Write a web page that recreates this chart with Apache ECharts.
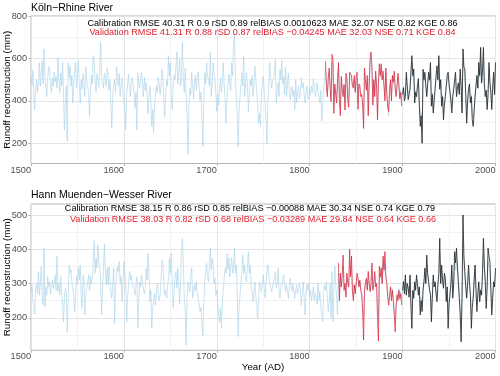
<!DOCTYPE html>
<html><head><meta charset="utf-8">
<script src="https://cdn.jsdelivr.net/npm/echarts@6/dist/echarts.min.js"></script>
<style>html,body{margin:0;padding:0;background:#fff}#c{width:500px;height:376px}</style>
</head><body><div id="c"></div>
<script>
// ---------- DATA ----------
const startYear = 1500;
const xTicks = [1500, 1600, 1700, 1800, 1900, 2000];
const topTitle = 'Köln−Rhine River';
const botTitle = 'Hann Muenden−Wesser River';
const topCal = 'Calibration RMSE 40.31 R 0.9 rSD 0.89 relBIAS 0.0010623 MAE 32.07 NSE 0.82 KGE 0.86';
const topVal = 'Validation RMSE 41.31 R 0.88 rSD 0.87 relBIAS −0.04245 MAE 32.03 NSE 0.71 KGE 0.84';
const botCal = 'Calibration RMSE 38.15 R 0.86 rSD 0.85 relBIAS −0.00088 MAE 30.34 NSE 0.74 KGE 0.79';
const botVal = 'Validation RMSE 38.03 R 0.82 rSD 0.68 relBIAS −0.03289 MAE 29.84 NSE 0.64 KGE 0.66';
const yTitle = 'Runoff reconstruction (mm)';
const xTitle = 'Year (AD)';
const topYTicks = [200, 400, 600, 800];
const topYMinor = [300, 500, 700];
const botYTicks = [200, 300, 400, 500];
const botYMinor = [150, 250, 350, 450];

// Köln-Rhine: reconstruction 1500-2000
const topRecon = [
510,470,545,430,360,455,500,440,485,580,
470,520,590,480,645,520,470,420,505,560,
550,480,440,510,470,535,490,515,460,605,
500,440,530,470,580,430,263,390,470,208,
580,510,565,470,520,390,480,540,580,460,
530,590,470,390,500,455,530,480,420,560,
500,470,430,326,450,520,480,613,580,490,
440,530,500,465,560,676,520,480,460,530,
500,470,555,520,450,500,390,270,420,480,
500,440,560,510,470,530,420,480,510,440,
400,360,263,430,480,525,460,420,490,510,
470,430,365,440,263,533,490,460,505,533,
470,420,510,450,485,430,340,420,470,390,
280,360,250,375,420,470,440,510,480,430,
470,550,500,410,326,440,500,470,613,520,
580,430,360,460,520,500,560,630,480,530,
597,470,520,676,500,440,555,420,330,150,
380,460,430,533,470,410,480,520,450,500,
535,470,400,440,320,184,390,533,480,580,
520,500,470,630,420,480,580,520,500,440,
350,430,380,460,510,440,490,580,470,400,
295,420,470,525,480,450,580,520,660,716,
520,420,330,184,350,420,480,533,470,610,
420,480,533,460,350,430,500,470,520,420,
470,565,500,450,380,295,340,280,420,480,
515,450,390,310,200,400,470,580,510,460,
490,500,540,595,390,450,485,420,550,500,
590,480,515,430,560,420,470,530,460,405,
440,470,420,450,360,500,390,440,470,410,
440,510,460,485,430,390,440,470,420,405,
455,430,470,440,505,470,420,450,485,440,
420,390,450,305,380,455,500,560,480,440,
500,530,470,420,580,570,380,470,450,410,
490,550,420,370,500,460,440,480,390,510,
500,420,400,510,520,500,470,470,500,450,
500,510,390,470,470,440,440,400,300,530,
490,460,500,360,470,570,600,540,400,490,
440,520,470,340,480,550,510,550,500,520,
470,420,530,440,390,330,450,490,420,500,
480,520,460,430,470,510,470,420,450,400,
440,470,420,440,510,470,430,440,470,520,
580,510,530,410,450,430,470,490,400,320,
350,260,520,490,510,470,430,480,510,490,
550,400,440,370,420,460,500,540,490,580,
460,490,400,430,340,400,430,470,500,520,
470,450,420,370,430,460,490,510,430,460,
480,440,520,470,370,600,540,530,430,330,
410,460,470,400,430,340,320,370,430,470,
500,460,550,510,610,480,520,600,470,430,
450,380,440,550,480,440,380,460,510,440,
540];
// Köln-Rhine: validation observations from 1817
const topValStart = 1817;
const topValObs = [
587,470,420,510,555,460,397,619,600,341,
480,430,390,500,580,400,330,515,450,420,
476,357,530,510,400,370,535,540,520,470,
460,520,440,510,535,360,480,470,420,430,
380,270,555,500,450,520,330,480,600,630,
560,380,500,420,540,470,310,490,575,520,
575,500,540,470,400,555,430,370,350,455,
500,400,520,490,540,455,420,470,530,480,
410,440,375];
// Köln-Rhine: calibration observations from 1900
const topCalStart = 1900;
const topCalObs = [
430,462,400,420,535,470,406,430,455,540,
613,520,550,390,440,420,470,505,380,280,
330,200,549,500,535,470,420,480,535,500,
581,375,430,343,400,455,520,565,500,613,
455,500,375,420,311,380,420,470,520,535,
480,440,400,343,420,455,500,535,420,460,
485,430,550,470,343,645,560,550,420,295,
400,455,480,390,420,311,280,350,420,470,
520,460,581,520,652,485,540,652,480,420,
450,359,430,581,485,440,359,470,535,430,
581];

// Hann Muenden-Wesser: reconstruction 1500-2000
const botRecon = [
270,300,250,240,210,286,300,271,335,266,
300,349,266,237,403,232,290,266,320,290,
305,270,286,310,286,300,325,280,379,276,
300,266,320,280,237,188,260,286,271,159,
250,354,330,340,305,285,266,218,257,320,
300,345,310,354,266,227,325,305,208,266,
290,301,325,280,320,300,315,360,425,330,
374,345,413,360,354,305,208,280,345,415,
340,296,345,296,349,310,271,257,300,345,
184,296,320,349,335,364,300,320,247,300,
364,335,290,188,260,296,335,310,325,300,
305,280,266,300,320,169,250,305,290,325,
300,301,270,286,345,310,388,330,247,280,
169,230,252,270,237,276,300,266,250,266,
310,369,354,300,266,280,257,290,315,374,
330,388,300,227,280,320,335,286,345,300,
240,300,398,432,354,257,220,120,260,305,
290,276,320,345,257,270,296,280,305,270,
257,240,218,230,179,149,240,305,330,359,
320,305,350,403,340,374,354,300,315,266,
280,240,208,188,230,169,250,276,320,345,
330,388,340,374,320,354,374,330,345,403,
330,354,270,145,230,266,300,335,383,330,
354,320,305,350,393,330,354,290,276,247,
280,305,260,237,198,250,305,290,276,300,
325,290,257,300,335,354,320,305,290,276,
290,305,320,335,286,300,345,280,257,290,
296,310,325,300,276,296,280,257,290,315,
290,276,300,305,257,280,296,270,266,300,
280,237,270,305,260,208,270,296,280,300,
260,280,250,270,290,250,270,260,240,300,
250,276,230,208,190,270,296,280,305,260,
218,250,300,200,335,189,280,350,300,305,
208,330,270,320,290,315,350,290,300,270,
320,300,290,370,320,350,285,265,295,280,
300,320,310,295,305,285,275,240,190,280,
300,310,285,325,300,280,300,340,285,300,
325,290,300,230,200,330,315,335,300,360,
330,360,315,300,270,250,270,290,260,285,
260,230,200,245,270,260,285,265,275,250,
285,300,280,315,275,300,290,270,315,250,
210,280,265,300,285,315,300,275,290,230,
260,240,285,300,330,300,355,320,300,285,
275,220,270,315,290,300,275,260,295,320,
390,300,335,305,290,320,310,260,290,210,
250,275,300,335,270,300,360,340,370,335,
300,270,235,190,270,420,350,320,290,265,
300,335,300,275,210,250,265,305,340,285,
240,275,300,260,285,275,320,390,335,300,
250,290,365,350,340,285,230,265,300,290,
330];
// Hann Muenden-Wesser: validation observations from 1831
const botValStart = 1831;
const botValObs = [
360,250,330,290,325,383,280,300,260,330,
300,290,400,320,380,276,250,296,270,300,
330,318,290,310,280,266,220,135,280,300,
315,280,335,300,276,300,360,280,300,335,
290,300,200,132,350,320,346,300,380,340,
393,320,300,260,237,262,290,250,280,247,
210,159,230,266,250,280,255,270,237];
// Hann Muenden-Wesser: calibration observations from 1900
const botCalStart = 1900;
const botCalObs = [
280,306,270,325,266,300,286,260,325,230,
169,280,257,305,280,325,300,266,290,208,
250,218,280,305,345,300,383,330,305,280,
266,188,260,325,290,305,270,247,296,330,
432,300,354,310,286,330,315,247,290,169,
240,266,300,354,257,300,393,360,403,350,
305,260,208,130,260,500,380,334,290,257,
300,354,300,266,169,230,257,310,354,280,
218,270,305,247,280,266,330,432,350,305,
227,290,403,380,364,280,208,260,305,290,
345];

// ---------- CHART ----------
const F = '"Liberation Sans", Arial, sans-serif';
const pairs = (start, arr) => arr.map((v, i) => [start + i, v]);
const BLUE = 'rgba(165,208,232,0.75)', RED = 'rgba(222,30,50,0.72)', BLACK = 'rgba(35,35,35,0.82)';
const MAJ = '#e4e4e4', MIN = '#f3f3f3', BORDER = '#b3b3b3', TXT = '#4d4d4d';

const grids = [
  {left: 31, top: 16, width: 464.5, height: 147.5},
  {left: 31, top: 204, width: 464.5, height: 146.3}
];
const yRanges = [[105, 800], [105, 532]];
const ticksMaj = [topYTicks, botYTicks], ticksMin = [topYMinor, botYMinor];

function xAx(g) {
  return {type: 'value', gridIndex: g, min: xTicks[0], max: xTicks[xTicks.length - 1], interval: 100,
    axisLine: {show: false},
    axisTick: {show: true, length: 2.5, lineStyle: {color: BORDER}},
    axisLabel: {align: 'right', margin: 2, color: TXT, fontSize: 9.2, fontFamily: F,
      showMinLabel: true, showMaxLabel: true, formatter: v => String(v)},
    splitLine: {show: true, lineStyle: {color: MAJ, width: 1}},
    minorTick: {show: false, splitNumber: 2},
    minorSplitLine: {show: true, lineStyle: {color: MIN, width: 1}}};
}
function yAx(g) {
  return [
    {type: 'value', gridIndex: g, min: yRanges[g][0], max: yRanges[g][1],
      axisLine: {show: false},
      axisTick: {show: true, length: 2.5, customValues: ticksMaj[g], lineStyle: {color: BORDER}},
      axisLabel: {customValues: ticksMaj[g], margin: 4, color: TXT, fontSize: 9.2, fontFamily: F, formatter: v => String(v)},
      splitLine: {show: true, lineStyle: {color: MAJ, width: 1}}, z: 1},
    {type: 'value', gridIndex: g, min: yRanges[g][0], max: yRanges[g][1], position: 'left',
      axisLine: {show: false},
      axisTick: {show: false, customValues: ticksMin[g]},
      axisLabel: {show: false, customValues: ticksMin[g]},
      splitLine: {show: true, lineStyle: {color: MIN, width: 1}}, z: 0}
  ];
}
function line(xi, yi, data, color, w, z) {
  return {type: 'line', xAxisIndex: xi, yAxisIndex: yi, data, symbol: 'none', showSymbol: false,
    lineStyle: {color, width: w}, itemStyle: {color}, silent: true, z, animation: false};
}
function txt(x, y, text, size, color, align, rot) {
  return {type: 'text', x, y, rotation: rot || 0, silent: true, z: 10,
    style: {text, fill: color, fontSize: size, fontFamily: F, align: align || 'center', verticalAlign: 'middle'}};
}

const chart = echarts.init(document.getElementById('c'), null, {renderer: 'canvas'});
chart.setOption({
  animation: false,
  backgroundColor: '#fff',
  grid: grids.map(g => Object.assign({show: true, borderColor: BORDER, borderWidth: 1, backgroundColor: 'transparent'}, g)),
  xAxis: [xAx(0), xAx(1)],
  yAxis: [...yAx(0), ...yAx(1)],
  series: [
    line(0, 0, pairs(startYear, topRecon), BLUE, 0.8, 2),
    line(0, 0, pairs(topValStart, topValObs), RED, 1, 3),
    line(0, 0, pairs(topCalStart, topCalObs), BLACK, 1, 4),
    line(1, 2, pairs(startYear, botRecon), BLUE, 0.8, 2),
    line(1, 2, pairs(botValStart, botValObs), RED, 1, 3),
    line(1, 2, pairs(botCalStart, botCalObs), BLACK, 1, 4)
  ],
  graphic: [
    txt(31, 8.5, topTitle, 10.5, '#000', 'left'),
    txt(272.5, 23.3, topCal, 9.1, '#000'),
    txt(272.5, 32.3, topVal, 9.1, '#e0202e'),
    txt(31, 195, botTitle, 10.5, '#000', 'left'),
    txt(250, 208.3, botCal, 9.1, '#000'),
    txt(253, 219.3, botVal, 9.1, '#e0202e'),
    txt(7.5, 89.8, yTitle, 9.75, '#000', 'center', Math.PI / 2),
    txt(7.5, 277.2, yTitle, 9.75, '#000', 'center', Math.PI / 2),
    txt(263, 367, xTitle, 9.75, '#000')
  ]
});
</script></body></html>
